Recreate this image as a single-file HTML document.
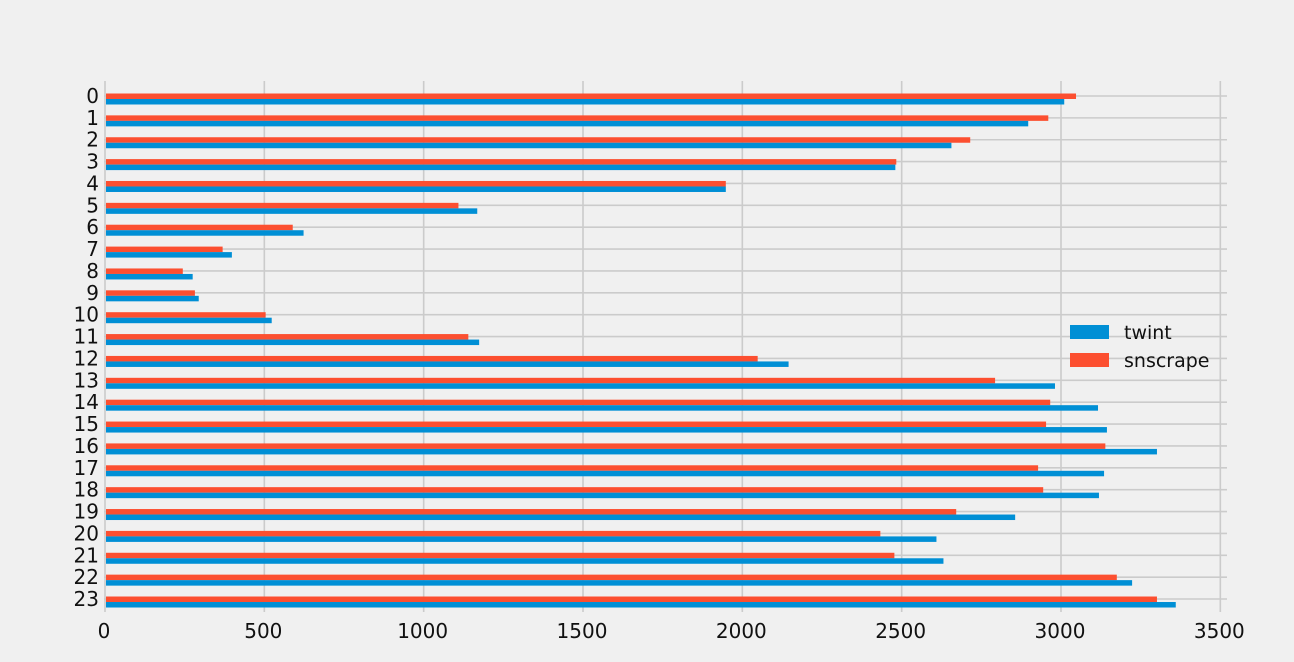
<!DOCTYPE html>
<html><head><meta charset="utf-8"><style>
html,body{margin:0;padding:0;background:#f0f0f0;}
svg{display:block;font-family:"DejaVu Sans","Liberation Sans",sans-serif;}
</style></head><body>
<svg id="chart" width="1294" height="662"></svg>
<script>
const categories = ["0","1","2","3","4","5","6","7","8","9","10","11","12","13","14","15","16","17","18","19","20","21","22","23"];
const twintValues = [3007,2894,2653,2477,1945,1165,620,395,272,291,520,1171,2142,2978,3113,3141,3298,3132,3116,2853,2606,2628,3220,3357];
const snscrapeValues = [3044,2957,2712,2480,1945,1106,586,366,241,279,501,1137,2045,2790,2963,2950,3136,2925,2941,2668,2430,2474,3172,3298];
const xTicks = [0,500,1000,1500,2000,2500,3000,3500];

const NS = "http://www.w3.org/2000/svg";
const svgEl = document.getElementById("chart");
const plotLeft = 106, pxPerUnit = (1062 - 106) / 3000, plotRight = 1227;
const plotTop = 81, plotBottom = 612;
const xs = v => plotLeft + v * pxPerUnit;
const step = 21.87;
const ys = i => 96 + step * i;
const barH = 5.5;
function mk(tag, attrs, parent) {
  const e = document.createElementNS(NS, tag);
  for (const k in attrs) e.setAttribute(k, attrs[k]);
  (parent || svgEl).appendChild(e);
  return e;
}
const grid = mk("g", {});


xTicks.forEach(t => {
  const l = mk("line", {x1: xs(t) - 1, x2: xs(t) - 1, y1: plotTop, y2: plotBottom, stroke: "#cbcbcb", "stroke-width": 1.6}, grid);
  
  
  const tx = mk("text", {x: xs(t) - 2, y: 638, "text-anchor": "middle", "font-size": 20, fill: "#111"});
  tx.textContent = t;
  
  
});
categories.forEach((c, i) => {
  const l = mk("line", {x1: plotLeft - 2, x2: plotRight, y1: ys(i), y2: ys(i), stroke: "#cbcbcb", "stroke-width": 1.6}, grid);
  
  
  const tx = mk("text", {x: 99, y: ys(i) + 7, "text-anchor": "end", "font-size": 20, fill: "#111"});
  tx.textContent = c;
  
  
});
categories.forEach((c, i) => {
  const base = ys(i) + 3;
  const r = mk("rect", {x: xs(0), y: base - barH, width: xs(snscrapeValues[i]) - xs(0), height: barH, fill: "#fc4f30"});
  
  
  const b = mk("rect", {x: xs(0), y: base, width: xs(twintValues[i]) - xs(0), height: barH, fill: "#008fd5"});
  
  
});
const lg = mk("g", {});


[["twint", "#008fd5", 332], ["snscrape", "#fc4f30", 360]].forEach(([n, col, y]) => {
  const r = mk("rect", {x: 1070, y: y - 7, width: 39, height: 14, fill: col}, lg);
  
  
  const t = mk("text", {x: 1124, y: y + 7, "font-size": 19, fill: "#111"}, lg);
  t.textContent = n;
  
  
});
</script>
</body></html>
